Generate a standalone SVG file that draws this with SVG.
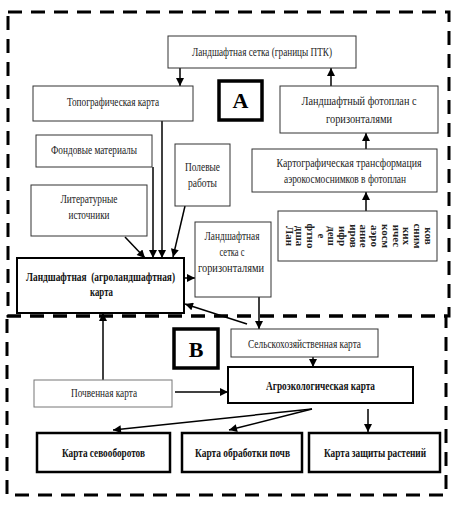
<svg xmlns="http://www.w3.org/2000/svg" width="459" height="517" viewBox="0 0 459 517">
<defs>
<marker id="ah" viewBox="0 0 10 10" refX="10" refY="5" markerWidth="9" markerHeight="8" markerUnits="userSpaceOnUse" orient="auto">
<path d="M0,0 L10,5 L0,10 z" fill="#000"/>
</marker>
<style>
.dash{fill:none;stroke:#000;stroke-width:3;stroke-dasharray:14 9}
.box{fill:#fff;stroke:#333;stroke-width:1}
.bbox{fill:#fff;stroke:#000;stroke-width:2}
.tbox{fill:#fff;stroke:#000;stroke-width:3.5}
.t{font-family:"Liberation Serif","Times New Roman",serif;font-size:11.5px;fill:#222;text-anchor:middle}
.b{font-family:"Liberation Serif","Times New Roman",serif;font-size:11.5px;font-weight:bold;fill:#111;text-anchor:middle}
.big{font-family:"Liberation Serif","Times New Roman",serif;font-size:22px;font-weight:bold;fill:#000;text-anchor:middle}
.v{font-family:"Liberation Serif","Times New Roman",serif;font-size:11px;font-weight:bold;fill:#222;text-anchor:middle}
.c{fill:none;stroke:#000;stroke-width:1.5;marker-end:url(#ah)}
</style>
</defs>
<rect class="dash" x="8" y="12" width="441" height="304"/>
<rect class="dash" x="7" y="316" width="439" height="179"/>

<g id="connectors">
<line class="c" x1="180" y1="68" x2="180" y2="86"/>
<line class="c" x1="331" y1="86" x2="331" y2="68"/>
<line class="c" x1="366" y1="149" x2="366" y2="133"/>
<line class="c" x1="366" y1="211" x2="366" y2="192"/>
<line class="c" x1="162" y1="121" x2="162" y2="258"/>
<line class="c" x1="153" y1="167" x2="153" y2="258"/>
<line class="c" x1="125" y1="237" x2="145" y2="258"/>
<line class="c" x1="185" y1="206" x2="173" y2="257"/>
<line class="c" x1="184" y1="278" x2="195" y2="278"/>
<line class="c" x1="259" y1="297" x2="259" y2="329"/>
<line class="c" x1="247" y1="324" x2="185" y2="304"/>
<line class="c" x1="103" y1="380" x2="103" y2="313"/>
<line class="c" x1="175" y1="392" x2="228" y2="392"/>
<line class="c" x1="313" y1="357" x2="313" y2="367"/>
<line class="c" x1="312" y1="409" x2="113" y2="430"/>
<line class="c" x1="312" y1="409" x2="229" y2="430"/>
<line class="c" x1="368" y1="409" x2="368" y2="432"/>
</g>

<g id="grid-ptk"><rect class="box" x="168" y="36" width="188" height="32"/><text class="t" x="262" y="56" textLength="140" lengthAdjust="spacingAndGlyphs">Ландшафтная сетка (границы ПТК)</text></g>
<g id="topo"><rect class="box" x="33" y="86" width="160" height="35"/><text class="t" x="113" y="106" textLength="92" lengthAdjust="spacingAndGlyphs">Топографическая карта</text></g>
<g id="label-a"><rect class="tbox" x="219" y="81" width="43" height="39"/><text class="big" x="240.5" y="108">А</text></g>
<g id="photoplan"><rect class="box" x="280" y="86" width="158" height="47"/><text class="t" x="359" y="105" textLength="115" lengthAdjust="spacingAndGlyphs">Ландшафтный фотоплан с</text><text class="t" x="359" y="123" textLength="66" lengthAdjust="spacingAndGlyphs">горизонталями</text></g>
<g id="transform"><rect class="box" x="252" y="149" width="185" height="43"/><text class="t" x="349" y="167" textLength="145" lengthAdjust="spacingAndGlyphs">Картографическая трансформация</text><text class="t" x="345" y="183" textLength="122" lengthAdjust="spacingAndGlyphs">аэрокосмоснимков в фотоплан</text></g>
<g id="decoding"><rect class="box" x="278" y="211" width="159" height="50"/>
<text class="v" transform="translate(285.5,236) rotate(90)">Лан</text>
<text class="v" transform="translate(296.2,236) rotate(90)">дша</text>
<text class="v" transform="translate(306.9,236) rotate(90)">фтно</text>
<text class="v" transform="translate(317.6,236) rotate(90)">е</text>
<text class="v" transform="translate(328.3,236) rotate(90)">деш</text>
<text class="v" transform="translate(339,236) rotate(90)">ифр</text>
<text class="v" transform="translate(349.7,236) rotate(90)">иров</text>
<text class="v" transform="translate(360.4,236) rotate(90)">ание</text>
<text class="v" transform="translate(371.1,236) rotate(90)">аэро</text>
<text class="v" transform="translate(381.8,236) rotate(90)">косм</text>
<text class="v" transform="translate(392.5,236) rotate(90)">ичес</text>
<text class="v" transform="translate(403.2,236) rotate(90)">ких</text>
<text class="v" transform="translate(413.9,236) rotate(90)">сним</text>
<text class="v" transform="translate(424.6,236) rotate(90)">ков</text>
</g>
<g id="fond"><rect class="box" x="36" y="135" width="116" height="32"/><text class="t" x="94" y="154" textLength="86" lengthAdjust="spacingAndGlyphs">Фондовые материалы</text></g>
<g id="field"><rect class="box" x="175" y="144" width="55" height="62"/><text class="t" x="202.5" y="171" textLength="35" lengthAdjust="spacingAndGlyphs">Полевые</text><text class="t" x="202.5" y="187" textLength="29" lengthAdjust="spacingAndGlyphs">работы</text></g>
<g id="lit"><rect class="box" x="31" y="185" width="116" height="51"/><text class="t" x="89" y="203" textLength="57" lengthAdjust="spacingAndGlyphs">Литературные</text><text class="t" x="89" y="219" textLength="41" lengthAdjust="spacingAndGlyphs">источники</text></g>
<g id="landmap"><rect class="bbox" x="17" y="258" width="167" height="55"/><text class="b" x="100.5" y="281" textLength="149" lengthAdjust="spacingAndGlyphs" xml:space="preserve">Ландшафтная  (агроландшафтная)</text><text class="b" x="101.5" y="296" textLength="23" lengthAdjust="spacingAndGlyphs">карта</text></g>
<g id="grid-hor"><rect class="box" x="195" y="222" width="76" height="75"/><text class="t" x="232" y="240" textLength="55" lengthAdjust="spacingAndGlyphs">Ландшафтная</text><text class="t" x="232" y="256" textLength="25" lengthAdjust="spacingAndGlyphs">сетка с</text><text class="t" x="231" y="272" textLength="66" lengthAdjust="spacingAndGlyphs">горизонталями</text></g>
<g id="agri"><rect class="box" x="231" y="329" width="147" height="28"/><text class="t" x="304.5" y="348" textLength="113" lengthAdjust="spacingAndGlyphs">Сельскохозяйственная карта</text></g>
<g id="label-b"><rect class="tbox" x="174" y="329" width="44" height="39"/><text class="big" x="196" y="357">В</text></g>
<g id="agroeco"><rect class="bbox" x="228" y="367" width="185" height="36"/><text class="b" x="320.5" y="390" textLength="109" lengthAdjust="spacingAndGlyphs">Агроэкологическая карта</text></g>
<g id="soil"><rect class="box" x="34" y="380" width="138" height="27" style="stroke:#777"/><text class="t" x="104" y="397" textLength="66" lengthAdjust="spacingAndGlyphs">Почвенная карта</text></g>
<g id="rotation"><rect class="bbox" x="37" y="433" width="133" height="39" style="stroke-width:2.5"/><text class="b" x="103.5" y="457" textLength="83" lengthAdjust="spacingAndGlyphs">Карта севооборотов</text></g>
<g id="tillage"><rect class="bbox" x="182" y="433" width="120" height="39" style="stroke-width:2.5"/><text class="b" x="242.5" y="457" textLength="95" lengthAdjust="spacingAndGlyphs">Карта обработки почв</text></g>
<g id="protection"><rect class="bbox" x="309" y="433" width="131" height="39" style="stroke-width:2.5"/><text class="b" x="375" y="457" textLength="102" lengthAdjust="spacingAndGlyphs">Карта защиты растений</text></g>
</svg>
